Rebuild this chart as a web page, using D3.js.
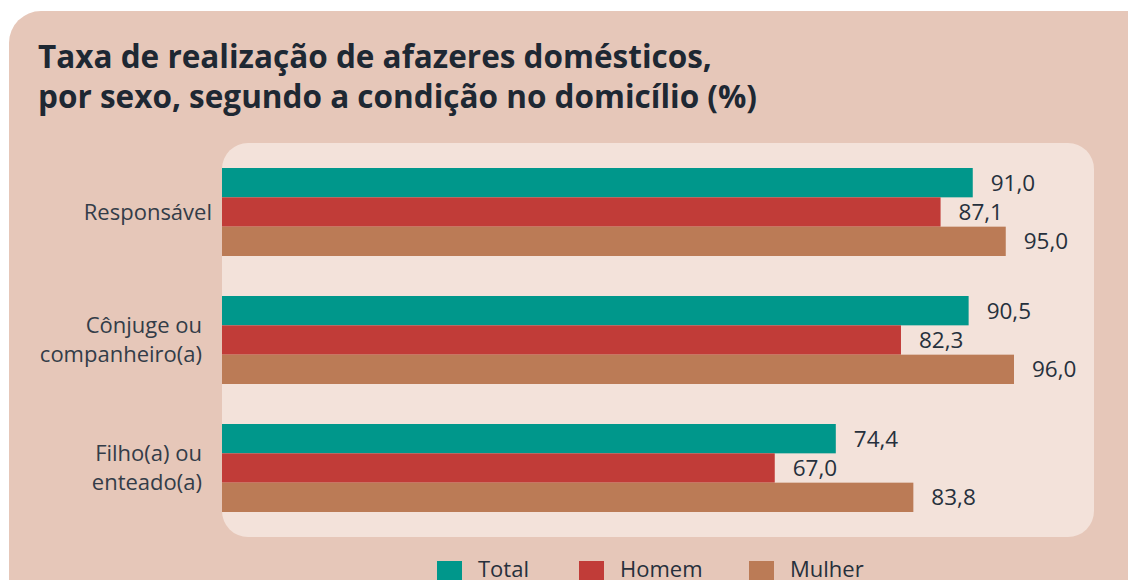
<!DOCTYPE html>
<html>
<head>
<meta charset="utf-8">
<script src="https://cdn.jsdelivr.net/npm/d3@7"></script>
<style>
  body { margin: 0; background: #fff; }
  svg { display: block; font-family: "Open Sans", sans-serif; }
</style>
</head>
<body>
<svg id="chart" width="1128" height="580"></svg>
<script>
// Data
var categories = [["Responsável"], ["Cônjuge ou", "companheiro(a)"], ["Filho(a) ou", "enteado(a)"]];
var series = ["Total", "Homem", "Mulher"];
var totalValues = [91.0, 90.5, 74.4];
var homemValues = [87.1, 82.3, 67.0];
var mulherValues = [95.0, 96.0, 83.8];
var colors = ["#00978b", "#c13c38", "#bb7b56"];

var values = [totalValues, homemValues, mulherValues];
var fmt = function(v){ return v.toFixed(1).replace(".", ","); };

var svg = d3.select("#chart");

// Outer panel
svg.append("rect")
    .attr("x", 9).attr("y", 11)
    .attr("width", 1200).attr("height", 700)
    .attr("rx", 32)
    .attr("fill", "#e6c7b9");

// Title, sized to the width of the original
var title = svg.append("text")
    .attr("font-size", 28)
    .attr("font-weight", 700)
    .attr("fill", "#1e2833");
var t1 = title.append("tspan").attr("x", 38).attr("y", 68).text("Taxa de realização de afazeres domésticos,");
title.append("tspan").attr("x", 38).attr("y", 108).text("por sexo, segundo a condição no domicílio (%)");
var w1 = t1.node().getComputedTextLength();
title.attr("font-size", 28 * 674 / w1);

// Inner panel
svg.append("rect")
    .attr("x", 222).attr("y", 143)
    .attr("width", 872).attr("height", 394)
    .attr("rx", 26)
    .attr("fill", "#f3e2da");

// Scales
var x = d3.scaleLinear().domain([0, 100]).range([222, 1047]);
var y = d3.scaleBand().domain(d3.range(categories.length)).range([136, 544]).paddingInner(0.3125).paddingOuter(0.25);
var ySub = d3.scaleBand().domain(series).range([0, y.bandwidth()]);

var groups = svg.selectAll("g.cat")
    .data(categories)
    .enter().append("g")
    .attr("class", "cat")
    .attr("transform", function(d, i){ return "translate(0," + y(i) + ")"; });

groups.each(function(cat, i){
    var g = d3.select(this);
    series.forEach(function(s, j){
        var v = values[j][i];
        g.append("rect")
            .attr("x", x(0))
            .attr("y", ySub(s))
            .attr("width", x(v) - x(0))
            .attr("height", ySub.bandwidth())
            .attr("fill", colors[j]);
        g.append("text")
            .attr("x", x(v) + 18)
            .attr("y", ySub(s) + ySub.bandwidth() / 2)
            .attr("dy", "0.36em")
            .attr("font-size", 22.5)
            .attr("fill", "#26303c")
            .text(fmt(v));
    });
    // category label
    var lineH = 29;
    var c = y.bandwidth() / 2 - (cat.length - 1) * lineH / 2;
    var right = cat.length > 1 ? 202 : 212;
    cat.forEach(function(line, k){
        g.append("text")
            .attr("x", right)
            .attr("y", c + k * lineH)
            .attr("dy", "0.36em")
            .attr("text-anchor", "end")
            .attr("font-size", 22)
            .attr("fill", "#333c48")
            .text(line);
    });
});

// Legend
var legendX = [437, 579, 749];
var legend = svg.selectAll("g.legend")
    .data(series)
    .enter().append("g")
    .attr("class", "legend")
    .attr("transform", function(d, i){ return "translate(" + legendX[i] + ",561)"; });
legend.append("rect")
    .attr("width", 25).attr("height", 25)
    .attr("fill", function(d, i){ return colors[i]; });
legend.append("text")
    .attr("x", 41).attr("y", 16)
    .attr("font-size", 22)
    .attr("fill", "#26303c")
    .text(function(d){ return d; });
</script>
</body>
</html>
